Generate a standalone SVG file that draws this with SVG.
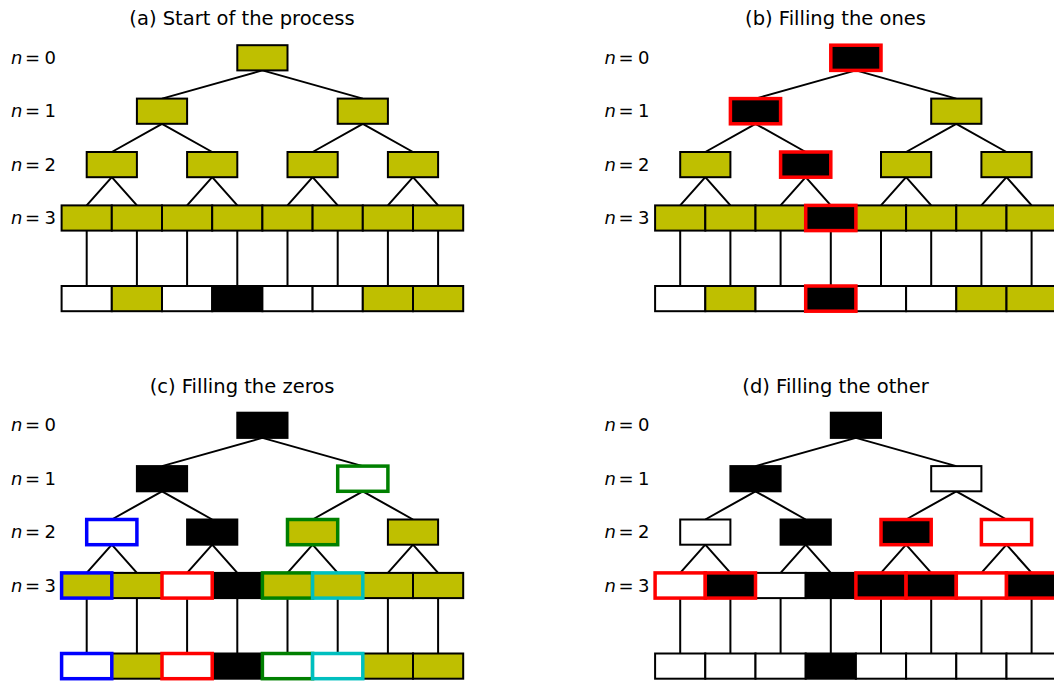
<svg xmlns="http://www.w3.org/2000/svg" xmlns:xlink="http://www.w3.org/1999/xlink" width="1054" height="684" viewBox="0 0 1054 684">
<style>
text{font-family:"DejaVu Sans","Liberation Sans",sans-serif;fill:#000}
.title{font-size:19.5px;text-anchor:middle}
.lab{font-size:18px}
.conn{fill:none;stroke:#000;stroke-width:2}
rect{stroke-width:2;stroke:#000}
.y{fill:#bfbf00}.k{fill:#000}.w{fill:#fff}
.sr{stroke:#ff0000;stroke-width:3.5}
.sbl{stroke:#0000ff;stroke-width:3.5}
.sg{stroke:#008000;stroke-width:3.5}
.sc{stroke:#00bfbf;stroke-width:3.5}
</style>
<defs>
<path id="edges" d="M262.4 70.4L162 98.6M262.4 70.4L362.8 98.6M162 123.8L111.8 152M162 123.8L212.2 152M362.8 123.8L312.6 152M362.8 123.8L413 152M111.8 177.2L86.7 205.4M111.8 177.2L136.9 205.4M212.2 177.2L187.1 205.4M212.2 177.2L237.3 205.4M312.6 177.2L287.5 205.4M312.6 177.2L337.7 205.4M413 177.2L387.9 205.4M413 177.2L438.1 205.4M86.7 230.6V286M136.9 230.6V286M187.1 230.6V286M237.3 230.6V286M287.5 230.6V286M337.7 230.6V286M387.9 230.6V286M438.1 230.6V286"/>
</defs>

<!-- titles and level labels -->
<g id="titles">
<text class="title" x="242" y="25">(a) Start of the process</text>
<text class="title" x="835.5" y="25">(b) Filling the ones</text>
<text class="title" x="242" y="392.5">(c) Filling the zeros</text>
<text class="title" x="835.5" y="392.5">(d) Filling the other</text>
</g>
<g id="labels" class="lab">
<text y="63.8"><tspan x="11" font-style="italic">n</tspan><tspan x="25">=</tspan><tspan x="44.5">0</tspan></text>
<text y="117.2"><tspan x="11" font-style="italic">n</tspan><tspan x="25">=</tspan><tspan x="44.5">1</tspan></text>
<text y="170.6"><tspan x="11" font-style="italic">n</tspan><tspan x="25">=</tspan><tspan x="44.5">2</tspan></text>
<text y="224"><tspan x="11" font-style="italic">n</tspan><tspan x="25">=</tspan><tspan x="44.5">3</tspan></text>
<text y="63.8"><tspan x="604.5" font-style="italic">n</tspan><tspan x="618.5">=</tspan><tspan x="638">0</tspan></text>
<text y="117.2"><tspan x="604.5" font-style="italic">n</tspan><tspan x="618.5">=</tspan><tspan x="638">1</tspan></text>
<text y="170.6"><tspan x="604.5" font-style="italic">n</tspan><tspan x="618.5">=</tspan><tspan x="638">2</tspan></text>
<text y="224"><tspan x="604.5" font-style="italic">n</tspan><tspan x="618.5">=</tspan><tspan x="638">3</tspan></text>
<text y="431.3"><tspan x="11" font-style="italic">n</tspan><tspan x="25">=</tspan><tspan x="44.5">0</tspan></text>
<text y="484.7"><tspan x="11" font-style="italic">n</tspan><tspan x="25">=</tspan><tspan x="44.5">1</tspan></text>
<text y="538.1"><tspan x="11" font-style="italic">n</tspan><tspan x="25">=</tspan><tspan x="44.5">2</tspan></text>
<text y="591.5"><tspan x="11" font-style="italic">n</tspan><tspan x="25">=</tspan><tspan x="44.5">3</tspan></text>
<text y="431.3"><tspan x="604.5" font-style="italic">n</tspan><tspan x="618.5">=</tspan><tspan x="638">0</tspan></text>
<text y="484.7"><tspan x="604.5" font-style="italic">n</tspan><tspan x="618.5">=</tspan><tspan x="638">1</tspan></text>
<text y="538.1"><tspan x="604.5" font-style="italic">n</tspan><tspan x="618.5">=</tspan><tspan x="638">2</tspan></text>
<text y="591.5"><tspan x="604.5" font-style="italic">n</tspan><tspan x="618.5">=</tspan><tspan x="638">3</tspan></text>
</g>

<g id="connectors" class="conn">
<use xlink:href="#edges" href="#edges"/>
<use xlink:href="#edges" href="#edges" transform="translate(593.5,0)"/>
<use xlink:href="#edges" href="#edges" transform="translate(0,367.5)"/>
<use xlink:href="#edges" href="#edges" transform="translate(593.5,367.5)"/>
</g>

<!-- Panel (a) -->
<g id="panel-a">
<g id="a-root"><rect class="y" x="237.3" y="45.2" width="50.2" height="25.2"/></g>
<g id="a-n1-0"><rect class="y" x="136.9" y="98.6" width="50.2" height="25.2"/></g>
<g id="a-n1-1"><rect class="y" x="337.7" y="98.6" width="50.2" height="25.2"/></g>
<g id="a-n2-0"><rect class="y" x="86.7" y="152" width="50.2" height="25.2"/></g>
<g id="a-n2-1"><rect class="y" x="187.1" y="152" width="50.2" height="25.2"/></g>
<g id="a-n2-2"><rect class="y" x="287.5" y="152" width="50.2" height="25.2"/></g>
<g id="a-n2-3"><rect class="y" x="387.9" y="152" width="50.2" height="25.2"/></g>
<g id="a-n3-0"><rect class="y" x="61.6" y="205.4" width="50.2" height="25.2"/></g>
<g id="a-n3-1"><rect class="y" x="111.8" y="205.4" width="50.2" height="25.2"/></g>
<g id="a-n3-2"><rect class="y" x="162" y="205.4" width="50.2" height="25.2"/></g>
<g id="a-n3-3"><rect class="y" x="212.2" y="205.4" width="50.2" height="25.2"/></g>
<g id="a-n3-4"><rect class="y" x="262.4" y="205.4" width="50.2" height="25.2"/></g>
<g id="a-n3-5"><rect class="y" x="312.6" y="205.4" width="50.2" height="25.2"/></g>
<g id="a-n3-6"><rect class="y" x="362.8" y="205.4" width="50.2" height="25.2"/></g>
<g id="a-n3-7"><rect class="y" x="413" y="205.4" width="50.2" height="25.2"/></g>
<g id="a-out-0"><rect class="w" x="61.6" y="286" width="50.2" height="25.2"/></g>
<g id="a-out-1"><rect class="y" x="111.8" y="286" width="50.2" height="25.2"/></g>
<g id="a-out-2"><rect class="w" x="162" y="286" width="50.2" height="25.2"/></g>
<g id="a-out-3"><rect class="k" x="212.2" y="286" width="50.2" height="25.2"/></g>
<g id="a-out-4"><rect class="w" x="262.4" y="286" width="50.2" height="25.2"/></g>
<g id="a-out-5"><rect class="w" x="312.6" y="286" width="50.2" height="25.2"/></g>
<g id="a-out-6"><rect class="y" x="362.8" y="286" width="50.2" height="25.2"/></g>
<g id="a-out-7"><rect class="y" x="413" y="286" width="50.2" height="25.2"/></g>
</g>

<!-- Panel (b) -->
<g id="panel-b" transform="translate(593.5,0)">
<g id="b-n1-1"><rect class="y" x="337.7" y="98.6" width="50.2" height="25.2"/></g>
<g id="b-n2-0"><rect class="y" x="86.7" y="152" width="50.2" height="25.2"/></g>
<g id="b-n2-2"><rect class="y" x="287.5" y="152" width="50.2" height="25.2"/></g>
<g id="b-n2-3"><rect class="y" x="387.9" y="152" width="50.2" height="25.2"/></g>
<g id="b-n3-0"><rect class="y" x="61.6" y="205.4" width="50.2" height="25.2"/></g>
<g id="b-n3-1"><rect class="y" x="111.8" y="205.4" width="50.2" height="25.2"/></g>
<g id="b-n3-2"><rect class="y" x="162" y="205.4" width="50.2" height="25.2"/></g>
<g id="b-n3-4"><rect class="y" x="262.4" y="205.4" width="50.2" height="25.2"/></g>
<g id="b-n3-5"><rect class="y" x="312.6" y="205.4" width="50.2" height="25.2"/></g>
<g id="b-n3-6"><rect class="y" x="362.8" y="205.4" width="50.2" height="25.2"/></g>
<g id="b-n3-7"><rect class="y" x="413" y="205.4" width="50.2" height="25.2"/></g>
<g id="b-out-0"><rect class="w" x="61.6" y="286" width="50.2" height="25.2"/></g>
<g id="b-out-1"><rect class="y" x="111.8" y="286" width="50.2" height="25.2"/></g>
<g id="b-out-2"><rect class="w" x="162" y="286" width="50.2" height="25.2"/></g>
<g id="b-out-4"><rect class="w" x="262.4" y="286" width="50.2" height="25.2"/></g>
<g id="b-out-5"><rect class="w" x="312.6" y="286" width="50.2" height="25.2"/></g>
<g id="b-out-6"><rect class="y" x="362.8" y="286" width="50.2" height="25.2"/></g>
<g id="b-out-7"><rect class="y" x="413" y="286" width="50.2" height="25.2"/></g>
<g id="b-root"><rect class="k sr" x="237.3" y="45.2" width="50.2" height="25.2"/></g>
<g id="b-n1-0"><rect class="k sr" x="136.9" y="98.6" width="50.2" height="25.2"/></g>
<g id="b-n2-1"><rect class="k sr" x="187.1" y="152" width="50.2" height="25.2"/></g>
<g id="b-n3-3"><rect class="k sr" x="212.2" y="205.4" width="50.2" height="25.2"/></g>
<g id="b-out-3"><rect class="k sr" x="212.2" y="286" width="50.2" height="25.2"/></g>
</g>

<!-- Panel (c) -->
<g id="panel-c" transform="translate(0,367.5)">
<g id="c-root"><rect class="k" x="237.3" y="45.2" width="50.2" height="25.2"/></g>
<g id="c-n1-0"><rect class="k" x="136.9" y="98.6" width="50.2" height="25.2"/></g>
<g id="c-n2-1"><rect class="k" x="187.1" y="152" width="50.2" height="25.2"/></g>
<g id="c-n2-3"><rect class="y" x="387.9" y="152" width="50.2" height="25.2"/></g>
<g id="c-n3-1"><rect class="y" x="111.8" y="205.4" width="50.2" height="25.2"/></g>
<g id="c-n3-3"><rect class="k" x="212.2" y="205.4" width="50.2" height="25.2"/></g>
<g id="c-n3-6"><rect class="y" x="362.8" y="205.4" width="50.2" height="25.2"/></g>
<g id="c-n3-7"><rect class="y" x="413" y="205.4" width="50.2" height="25.2"/></g>
<g id="c-out-1"><rect class="y" x="111.8" y="286" width="50.2" height="25.2"/></g>
<g id="c-out-3"><rect class="k" x="212.2" y="286" width="50.2" height="25.2"/></g>
<g id="c-out-6"><rect class="y" x="362.8" y="286" width="50.2" height="25.2"/></g>
<g id="c-out-7"><rect class="y" x="413" y="286" width="50.2" height="25.2"/></g>
<g id="c-n1-1"><rect class="w sg" x="337.7" y="98.6" width="50.2" height="25.2"/></g>
<g id="c-n2-0"><rect class="w sbl" x="86.7" y="152" width="50.2" height="25.2"/></g>
<g id="c-n2-2"><rect class="y sg" x="287.5" y="152" width="50.2" height="25.2"/></g>
<g id="c-n3-0"><rect class="y sbl" x="61.6" y="205.4" width="50.2" height="25.2"/></g>
<g id="c-n3-2"><rect class="w sr" x="162" y="205.4" width="50.2" height="25.2"/></g>
<g id="c-n3-4"><rect class="y sg" x="262.4" y="205.4" width="50.2" height="25.2"/></g>
<g id="c-n3-5"><rect class="y sc" x="312.6" y="205.4" width="50.2" height="25.2"/></g>
<g id="c-out-0"><rect class="w sbl" x="61.6" y="286" width="50.2" height="25.2"/></g>
<g id="c-out-2"><rect class="w sr" x="162" y="286" width="50.2" height="25.2"/></g>
<g id="c-out-4"><rect class="w sg" x="262.4" y="286" width="50.2" height="25.2"/></g>
<g id="c-out-5"><rect class="w sc" x="312.6" y="286" width="50.2" height="25.2"/></g>
</g>

<!-- Panel (d) -->
<g id="panel-d" transform="translate(593.5,367.5)">
<g id="d-root"><rect class="k" x="237.3" y="45.2" width="50.2" height="25.2"/></g>
<g id="d-n1-0"><rect class="k" x="136.9" y="98.6" width="50.2" height="25.2"/></g>
<g id="d-n1-1"><rect class="w" x="337.7" y="98.6" width="50.2" height="25.2"/></g>
<g id="d-n2-0"><rect class="w" x="86.7" y="152" width="50.2" height="25.2"/></g>
<g id="d-n2-1"><rect class="k" x="187.1" y="152" width="50.2" height="25.2"/></g>
<g id="d-n3-2"><rect class="w" x="162" y="205.4" width="50.2" height="25.2"/></g>
<g id="d-n3-3"><rect class="k" x="212.2" y="205.4" width="50.2" height="25.2"/></g>
<g id="d-out-0"><rect class="w" x="61.6" y="286" width="50.2" height="25.2"/></g>
<g id="d-out-1"><rect class="w" x="111.8" y="286" width="50.2" height="25.2"/></g>
<g id="d-out-2"><rect class="w" x="162" y="286" width="50.2" height="25.2"/></g>
<g id="d-out-3"><rect class="k" x="212.2" y="286" width="50.2" height="25.2"/></g>
<g id="d-out-4"><rect class="w" x="262.4" y="286" width="50.2" height="25.2"/></g>
<g id="d-out-5"><rect class="w" x="312.6" y="286" width="50.2" height="25.2"/></g>
<g id="d-out-6"><rect class="w" x="362.8" y="286" width="50.2" height="25.2"/></g>
<g id="d-out-7"><rect class="w" x="413" y="286" width="50.2" height="25.2"/></g>
<g id="d-n2-2"><rect class="k sr" x="287.5" y="152" width="50.2" height="25.2"/></g>
<g id="d-n2-3"><rect class="w sr" x="387.9" y="152" width="50.2" height="25.2"/></g>
<g id="d-n3-0"><rect class="w sr" x="61.6" y="205.4" width="50.2" height="25.2"/></g>
<g id="d-n3-1"><rect class="k sr" x="111.8" y="205.4" width="50.2" height="25.2"/></g>
<g id="d-n3-4"><rect class="k sr" x="262.4" y="205.4" width="50.2" height="25.2"/></g>
<g id="d-n3-5"><rect class="k sr" x="312.6" y="205.4" width="50.2" height="25.2"/></g>
<g id="d-n3-6"><rect class="w sr" x="362.8" y="205.4" width="50.2" height="25.2"/></g>
<g id="d-n3-7"><rect class="k sr" x="413" y="205.4" width="50.2" height="25.2"/></g>
</g>
</svg>
